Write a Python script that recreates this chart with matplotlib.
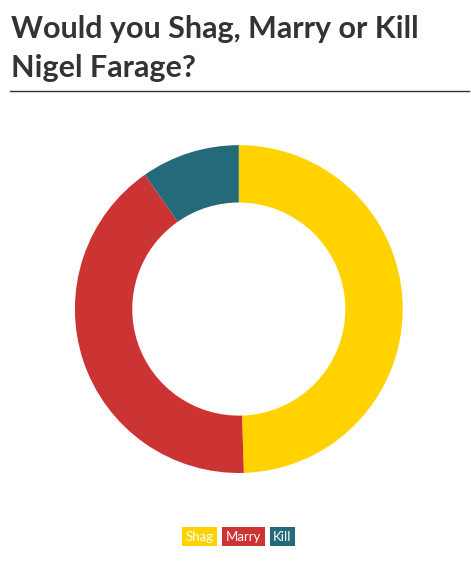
import matplotlib
matplotlib.use("Agg")
import matplotlib.pyplot as plt

labels = ["Shag", "Marry", "Kill"]
values = [51, 42, 10]
colors = ["#FFD200", "#CC3333", "#246A7A"]
title = "Would you Shag, Marry or Kill\nNigel Farage?"

fig = plt.figure(figsize=(4.71, 5.64), dpi=100)
fig.patch.set_facecolor("white")

fig.text(0.023, 0.973, title, ha="left", va="top", fontsize=22,
         fontweight="bold", family="Lato", color="#333333", linespacing=1.45)
fig.add_artist(plt.Line2D([0.021, 0.996], [0.839, 0.839], color="#333333", lw=1.0))

ax = fig.add_axes([0.159, 0.161, 0.696, 0.582])
wedges, _ = ax.pie(values, colors=colors, startangle=90, counterclock=False,
                   wedgeprops=dict(width=0.35, linewidth=0))
ax.set_xlim(-1, 1)
ax.set_ylim(-1, 1)
ax.set_aspect("equal")

leg = fig.legend(wedges, labels, loc="center", bbox_to_anchor=(0.507, 0.048),
                 ncol=3, frameon=False, handlelength=0, handletextpad=0,
                 columnspacing=0.9, prop=dict(family="Lato", size=9.5))
for h in leg.legend_handles:
    h.set_visible(False)
for t, c in zip(leg.get_texts(), colors):
    t.set_color("white")
    t.set_bbox(dict(facecolor=c, edgecolor="none", pad=2.5))

fig.savefig("out.png", dpi=100)
